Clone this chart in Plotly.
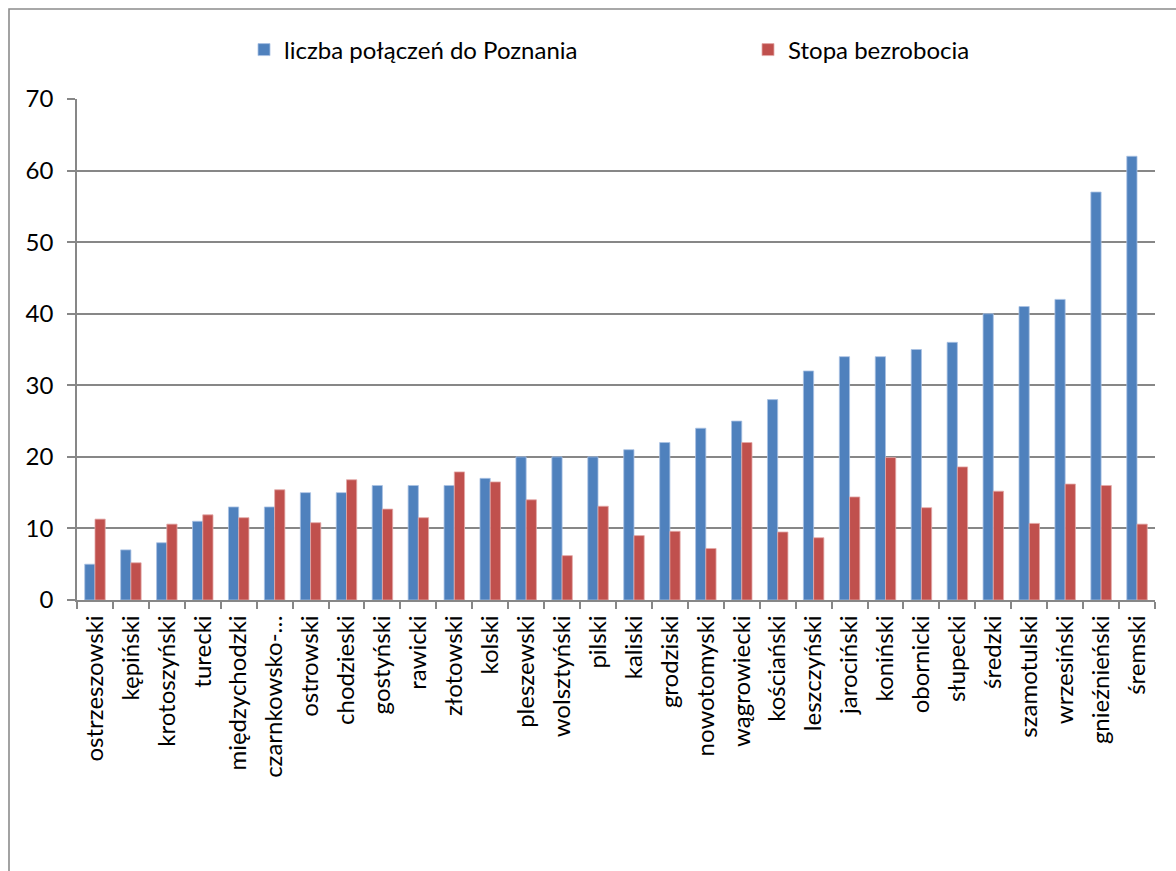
import plotly.graph_objects as go

# Powiaty (counties) ordered by the number of connections to Poznań
powiaty = [
    "ostrzeszowski", "kępiński", "krotoszyński", "turecki", "międzychodzki",
    "czarnkowsko-…", "ostrowski", "chodzieski", "gostyński", "rawicki",
    "złotowski", "kolski", "pleszewski", "wolsztyński", "pilski",
    "kaliski", "grodziski", "nowotomyski", "wągrowiecki", "kościański",
    "leszczyński", "jarociński", "koniński", "obornicki", "słupecki",
    "średzki", "szamotulski", "wrzesiński", "gnieźnieński", "śremski",
]

polaczenia = [
    5, 7, 8, 11, 13, 13, 15, 15, 16, 16,
    16, 17, 20, 20, 20, 21, 22, 24, 25, 28,
    32, 34, 34, 35, 36, 40, 41, 42, 57, 62,
]

bezrobocie = [
    11.3, 5.2, 10.6, 11.9, 11.5, 15.4, 10.8, 16.8, 12.7, 11.5,
    17.9, 16.5, 14.0, 6.2, 13.1, 9.0, 9.6, 7.2, 22.0, 9.5,
    8.7, 14.4, 19.9, 12.9, 18.6, 15.2, 10.7, 16.2, 16.0, 10.6,
]

y_ticks = [0, 10, 20, 30, 40, 50, 60, 70]

FONT = "Lato"
FS = 24
GRID = "#878787"

fig = go.Figure()
fig.add_trace(go.Bar(
    x=powiaty, y=polaczenia, name="liczba połączeń do Poznania",
    marker=dict(color="#4F81BD", line=dict(color="#A9C1E3", width=0.8)),
    legend="legend",
))
fig.add_trace(go.Bar(
    x=powiaty, y=bezrobocie, name="Stopa bezrobocia",
    marker=dict(color="#C0504D", line=dict(color="#E3A9A8", width=0.8)),
    legend="legend2",
))

L, R, T, B = 77, 21, 99, 271
W, H = 1176, 871
pw, ph = W - L - R, H - T - B


def legend_at(px):
    # one legend box per series, placed along the top of the chart
    return dict(
        orientation="h", x=(px - L) / pw, xanchor="left",
        y=1 + (T - 50) / ph, yanchor="middle",
        font=dict(family=FONT, size=FS, color="black"),
        itemwidth=30, bgcolor="rgba(0,0,0,0)",
    )


fig.update_layout(
    width=W, height=H,
    margin=dict(l=L, r=R, t=T, b=B),
    paper_bgcolor="white", plot_bgcolor="white",
    barmode="group", bargap=0.43, bargroupgap=0,
    font=dict(family=FONT, size=FS, color="black"),
    showlegend=True,
    legend=legend_at(244),
    legend2=legend_at(748),
    xaxis=dict(
        type="category", tickangle=-90,
        showline=True, linecolor=GRID, linewidth=1.6,
        ticks="outside", tickson="boundaries", ticklen=7,
        tickcolor=GRID, tickwidth=1.6,
        showgrid=False, zeroline=False,
        tickfont=dict(family=FONT, size=FS, color="black"),
        ticklabelstandoff=4,
    ),
    yaxis=dict(
        range=[0, 70], tickvals=y_ticks,
        showline=True, linecolor=GRID, linewidth=1.6,
        ticks="outside", ticklen=8, tickcolor=GRID, tickwidth=1.6,
        showgrid=True, gridcolor=GRID, gridwidth=1.6,
        zeroline=False,
        tickfont=dict(family=FONT, size=FS, color="black"),
        ticklabelstandoff=9,
    ),
    shapes=[dict(
        type="rect", xref="paper", yref="paper",
        x0=(9 - L) / pw, x1=(W + 20 - L) / pw,
        y0=-(H + 20 - T - ph) / ph, y1=1 + (T - 9) / ph,
        line=dict(color="#8C8C8C", width=1.6), fillcolor="rgba(0,0,0,0)",
        layer="below",
    )],
)

fig.write_html("out.html")
